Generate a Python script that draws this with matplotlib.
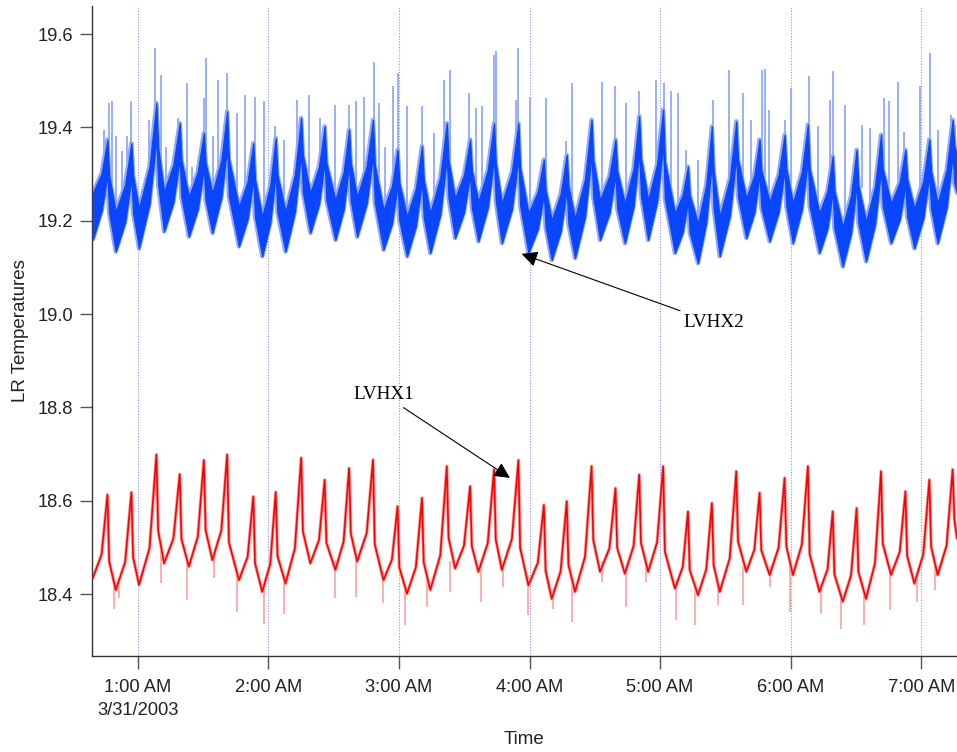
import numpy as np
import matplotlib
matplotlib.use("Agg")
import matplotlib.pyplot as plt

# ---------------- data (minutes after midnight, 3/31/2003) ----------------
key_t = [39.4,
    43.4, 46.1, 46.9, 49.9,   54.2, 57.1, 57.9, 60.6,   65.4, 68.6, 69.4, 72.1,
    76.4, 79.3, 80.1, 83.5,   87.6, 90.4, 91.2, 94.3,   98.4, 101.1, 101.9, 106.5,
    110.5, 113.1, 113.9, 117.2, 120.9, 123.4, 124.2, 127.9, 132.2, 135.1, 135.9, 139.3,
    143.3, 145.9, 146.7, 150.8, 154.6, 157.1, 157.9, 160.8, 165.2, 168.1, 168.9, 172.9,
    176.8, 179.4, 180.2, 183.7, 187.8, 190.6, 191.4, 194.4, 199.0, 202.0, 202.8, 205.8,
    209.9, 212.7, 213.5, 216.5, 220.8, 223.7, 224.5, 227.3, 231.9, 234.9, 235.7, 239.5,
    243.8, 246.6, 247.4, 250.2, 254.3, 257.1, 257.9, 260.9, 265.5, 268.5, 269.3, 272.4,
    276.7, 279.5, 280.3, 283.8, 287.8, 290.4, 291.2, 294.5, 298.6, 301.4, 302.2, 306.8,
    310.4, 312.8, 313.6, 317.4, 321.2, 323.8, 324.6, 327.4, 332.0, 335.0, 335.8, 339.6,
    343.3, 345.7, 346.5, 350.3, 354.4, 357.2, 358.0, 361.0, 365.1, 367.9, 368.7, 373.2,
    376.9, 379.3, 380.1, 383.9, 387.7, 390.3, 391.1, 394.6, 398.7, 401.5, 402.3, 406.1,
    410.1, 412.7, 413.5, 416.8, 420.9, 423.7, 424.5, 427.5, 431.6, 434.4, 435.2, 436.4]

lvhx1 = [18.435,
    18.485, 18.613, 18.470, 18.409, 18.468, 18.618, 18.479, 18.420, 18.498, 18.699, 18.536, 18.466,
    18.519, 18.657, 18.518, 18.459, 18.523, 18.687, 18.537, 18.473, 18.536, 18.699, 18.511, 18.430,
    18.480, 18.609, 18.466, 18.405, 18.465, 18.619, 18.482, 18.423, 18.498, 18.692, 18.534, 18.466,
    18.516, 18.645, 18.510, 18.452, 18.513, 18.670, 18.530, 18.470, 18.531, 18.688, 18.507, 18.430,
    18.474, 18.588, 18.457, 18.401, 18.458, 18.606, 18.468, 18.409, 18.483, 18.674, 18.521, 18.455,
    18.504, 18.631, 18.503, 18.448, 18.509, 18.667, 18.517, 18.452, 18.518, 18.687, 18.499, 18.419,
    18.467, 18.591, 18.450, 18.390, 18.449, 18.599, 18.463, 18.405, 18.480, 18.674, 18.516, 18.448,
    18.498, 18.627, 18.499, 18.444, 18.503, 18.656, 18.510, 18.448, 18.511, 18.674, 18.491, 18.412,
    18.458, 18.577, 18.452, 18.398, 18.453, 18.595, 18.462, 18.405, 18.477, 18.663, 18.513, 18.448,
    18.495, 18.617, 18.494, 18.441, 18.499, 18.649, 18.503, 18.441, 18.506, 18.674, 18.486, 18.405,
    18.453, 18.577, 18.442, 18.384, 18.440, 18.584, 18.448, 18.390, 18.466, 18.663, 18.508, 18.441,
    18.491, 18.620, 18.482, 18.423, 18.485, 18.645, 18.502, 18.441, 18.504, 18.667, 18.560, 18.520]

lvhx2_low = [19.160,
    19.221, 19.299, 19.217, 19.134, 19.197, 19.291, 19.216, 19.141, 19.236, 19.377, 19.277, 19.177,
    19.240, 19.334, 19.250, 19.166, 19.225, 19.313, 19.244, 19.174, 19.249, 19.359, 19.252, 19.145,
    19.204, 19.291, 19.208, 19.124, 19.196, 19.302, 19.218, 19.134, 19.219, 19.345, 19.260, 19.174,
    19.236, 19.327, 19.243, 19.159, 19.224, 19.320, 19.243, 19.166, 19.237, 19.341, 19.240, 19.138,
    19.194, 19.277, 19.201, 19.124, 19.189, 19.285, 19.208, 19.131, 19.213, 19.334, 19.249, 19.163,
    19.218, 19.299, 19.228, 19.156, 19.228, 19.334, 19.243, 19.152, 19.225, 19.334, 19.233, 19.131,
    19.182, 19.256, 19.186, 19.116, 19.177, 19.266, 19.193, 19.120, 19.209, 19.341, 19.250, 19.159,
    19.216, 19.299, 19.226, 19.152, 19.231, 19.349, 19.254, 19.159, 19.241, 19.363, 19.247, 19.131,
    19.176, 19.241, 19.175, 19.109, 19.197, 19.327, 19.226, 19.124, 19.210, 19.338, 19.251, 19.163,
    19.218, 19.299, 19.228, 19.156, 19.218, 19.309, 19.231, 19.152, 19.224, 19.331, 19.231, 19.131,
    19.184, 19.263, 19.183, 19.102, 19.173, 19.277, 19.195, 19.113, 19.192, 19.309, 19.231, 19.152,
    19.203, 19.277, 19.209, 19.141, 19.205, 19.299, 19.226, 19.152, 19.228, 19.341, 19.280, 19.260]

lvhx2_high = [19.260,
    19.301, 19.374, 19.297, 19.219, 19.277, 19.366, 19.296, 19.226, 19.316, 19.452, 19.357, 19.262,
    19.320, 19.409, 19.330, 19.251, 19.305, 19.388, 19.324, 19.259, 19.329, 19.434, 19.332, 19.230,
    19.284, 19.366, 19.288, 19.209, 19.276, 19.377, 19.298, 19.219, 19.299, 19.420, 19.340, 19.259,
    19.316, 19.402, 19.323, 19.244, 19.304, 19.395, 19.323, 19.251, 19.317, 19.416, 19.320, 19.223,
    19.274, 19.352, 19.281, 19.209, 19.269, 19.360, 19.288, 19.216, 19.293, 19.409, 19.329, 19.248,
    19.298, 19.374, 19.308, 19.241, 19.308, 19.409, 19.323, 19.237, 19.305, 19.409, 19.313, 19.216,
    19.262, 19.331, 19.266, 19.201, 19.257, 19.341, 19.273, 19.205, 19.289, 19.416, 19.330, 19.244,
    19.296, 19.374, 19.306, 19.237, 19.311, 19.424, 19.334, 19.244, 19.321, 19.438, 19.327, 19.216,
    19.256, 19.316, 19.255, 19.194, 19.277, 19.402, 19.306, 19.209, 19.290, 19.413, 19.331, 19.248,
    19.298, 19.374, 19.308, 19.241, 19.298, 19.384, 19.311, 19.237, 19.304, 19.406, 19.311, 19.216,
    19.264, 19.338, 19.263, 19.187, 19.253, 19.352, 19.275, 19.198, 19.272, 19.384, 19.311, 19.237,
    19.283, 19.352, 19.289, 19.226, 19.285, 19.374, 19.306, 19.237, 19.308, 19.416, 19.360, 19.340]

# sharp excursions in the LVHX2 record (time, base, top)
spike2_t = [41.8, 44.3, 46.8, 48.4, 49.9, 53.0, 55.3, 57.1, 65.2, 67.8, 70.5, 72.8, 78.5, 82.8,
    85.1, 90.4, 91.6, 94.7, 96.8, 101.1, 105.7, 109.1, 113.8, 117.9, 123.3, 127.4, 133.2, 138.9,
    143.6, 150.5, 156.9, 160.4, 163.8, 168.7, 170.7, 173.7, 177.5, 179.8, 183.7, 190.8, 195.9,
    200.8, 203.5, 212.4, 215.5, 218.1, 223.7, 224.6, 233.8, 234.9, 240.2, 247.4, 256.6, 259.6,
    273.4, 279.2, 284.3, 290.4, 298.3, 301.7, 305.2, 308.3, 312.1, 317.4, 324.3, 331.6, 338.0,
    341.9, 346.9, 348.0, 350.0, 357.6, 360.2, 368.3, 372.4, 378.1, 379.6, 385.1, 392.8, 396.6,
    402.7, 405.0, 409.1, 412.2, 419.4, 424.0, 427.5, 433.6, 435.3]
spike2_base = [19.21, 19.26, 19.28, 19.22, 19.17, 19.19, 19.25, 19.30, 19.25, 19.35, 19.25, 19.21,
    19.30, 19.20, 19.19, 19.31, 19.27, 19.20, 19.22, 19.36, 19.18, 19.21, 19.25, 19.16, 19.30,
    19.17, 19.26, 19.21, 19.25, 19.19, 19.32, 19.20, 19.25, 19.30, 19.20, 19.17, 19.24, 19.26,
    19.16, 19.28, 19.18, 19.29, 19.26, 19.30, 19.20, 19.21, 19.33, 19.26, 19.29, 19.33, 19.17,
    19.21, 19.26, 19.17, 19.21, 19.30, 19.19, 19.35, 19.28, 19.35, 19.20, 19.20, 19.24, 19.15,
    19.30, 19.26, 19.21, 19.22, 19.28, 19.24, 19.20, 19.30, 19.19, 19.31, 19.17, 19.24, 19.26,
    19.15, 19.27, 19.16, 19.25, 19.19, 19.25, 19.28, 19.24, 19.28, 19.19, 19.31, 19.30]
spike2_top = [19.274, 19.395, 19.452, 19.456, 19.381, 19.349, 19.381, 19.456, 19.416, 19.570,
    19.513, 19.359, 19.420, 19.495, 19.316, 19.463, 19.548, 19.381, 19.502, 19.516, 19.431,
    19.470, 19.466, 19.456, 19.402, 19.374, 19.459, 19.470, 19.420, 19.448, 19.448, 19.456,
    19.466, 19.541, 19.452, 19.359, 19.488, 19.516, 19.445, 19.445, 19.388, 19.502, 19.523,
    19.473, 19.441, 19.445, 19.556, 19.563, 19.459, 19.570, 19.466, 19.463, 19.370, 19.495,
    19.498, 19.488, 19.452, 19.477, 19.502, 19.495, 19.477, 19.473, 19.352, 19.331, 19.459,
    19.523, 19.473, 19.416, 19.523, 19.525, 19.438, 19.416, 19.484, 19.509, 19.402, 19.459,
    19.520, 19.448, 19.406, 19.399, 19.463, 19.456, 19.498, 19.391, 19.488, 19.559, 19.395,
    19.427, 19.406]

# downward excursions in the LVHX1 record (time, low, high)
spike1_t = [48.9, 51.4, 70.5, 82.8, 95.0, 105.7, 117.9, 127.1, 150.8, 160.4, 172.9, 182.9, 192.9,
    203.5, 217.6, 228.0, 239.5, 250.9, 259.4, 273.1, 284.3, 293.4, 307.2, 315.9, 326.6, 338.0,
    350.3, 359.9, 374.0, 383.2, 393.9, 405.4, 418.0, 426.5]
spike1_low = [18.369, 18.391, 18.423, 18.387, 18.434, 18.362, 18.337, 18.358, 18.391, 18.394,
    18.380, 18.333, 18.373, 18.405, 18.384, 18.416, 18.355, 18.369, 18.340, 18.427, 18.373,
    18.427, 18.344, 18.333, 18.376, 18.376, 18.416, 18.362, 18.358, 18.326, 18.333, 18.366,
    18.384, 18.409]
spike1_high = [18.43, 18.43, 18.50, 18.47, 18.48, 18.45, 18.42, 18.44, 18.47, 18.48, 18.45, 18.42,
    18.43, 18.47, 18.46, 18.47, 18.44, 18.41, 18.42, 18.47, 18.46, 18.47, 18.43, 18.42, 18.43,
    18.46, 18.46, 18.46, 18.42, 18.40, 18.41, 18.46, 18.44, 18.46]

hour_ticks = [60, 120, 180, 240, 300, 360, 420]
hour_labels = ["1:00 AM\n3/31/2003", "2:00 AM", "3:00 AM", "4:00 AM", "5:00 AM", "6:00 AM", "7:00 AM"]

# ---------------- figure ----------------
W, H = 957, 752
fig = plt.figure(figsize=(W / 100, H / 100), dpi=100)
ax = fig.add_axes([92 / W, 1 - 656 / H, 1 - 92 / W, (656 - 6) / H])

sans = ["Liberation Sans", "DejaVu Sans"]
serif = ["Liberation Serif", "DejaVu Serif"]

dark_blue = "#0a46ff"
light_blue = "#8fa9ff"
red = "#ff0000"
light_red = "#ffa0a0"

# LVHX2: light fringe, spikes, dense core
ax.fill_between(key_t, lvhx2_low, lvhx2_high, facecolor="none", edgecolor=light_blue,
                linewidth=3.2, zorder=2)
ax.vlines(spike2_t, spike2_base, spike2_top, color=light_blue, linewidth=1.3, zorder=2)
ax.fill_between(key_t, lvhx2_low, lvhx2_high, color=dark_blue, linewidth=0.9,
                edgecolor=dark_blue, zorder=3)

# LVHX1: light fringe, spikes, core line
ax.vlines(spike1_t, spike1_low, spike1_high, color=light_red, linewidth=1.2, zorder=2)
ax.plot(key_t, lvhx1, color=light_red, linewidth=2.4, zorder=2, solid_joinstyle="round")
ax.plot(key_t, lvhx1, color=red, linewidth=1.2, zorder=3)

ax.set_xlim(39.0, 436.4)
ax.set_ylim(18.2675, 19.66)

ax.set_xticks(hour_ticks)
ax.set_xticklabels(hour_labels, fontfamily=sans, fontsize=13.2, color="#222222",
                   linespacing=1.45, va="top")
yt = [18.4, 18.6, 18.8, 19.0, 19.2, 19.4, 19.6]
ax.set_yticks(yt)
ax.set_yticklabels([f"{v:.1f}" for v in yt], fontfamily=sans, fontsize=13.2, color="#222222")

ax.tick_params(axis="x", length=9.5, width=1.0, color="#555555", pad=7, direction="out")
ax.tick_params(axis="y", length=8.6, width=1.0, color="#555555", pad=5, direction="out")

ax.xaxis.grid(True, color="#8c8cff", linestyle=(0, (1, 1.5)), linewidth=0.8, zorder=1)
ax.set_axisbelow(True)

for s in ("top", "right"):
    ax.spines[s].set_visible(False)
for s in ("left", "bottom"):
    ax.spines[s].set_color("#333333")
    ax.spines[s].set_linewidth(1.0)

ax.set_ylabel("LR Temperatures", fontfamily=sans, fontsize=13.5, color="#222222", labelpad=6)
ax.set_xlabel("Time", fontfamily=sans, fontsize=13.5, color="#222222", labelpad=9)

arrow = dict(arrowstyle="-|>", color="black", lw=0.8, mutation_scale=24, shrinkA=2, shrinkB=0)
ax.annotate("LVHX2", xy=(236.4, 19.129), xytext=(324.8, 18.981), fontfamily=serif,
            fontsize=13.8, ha="center", va="center", arrowprops=arrow, zorder=5)
ax.annotate("LVHX1", xy=(231.0, 18.649), xytext=(173.2, 18.827), fontfamily=serif,
            fontsize=13.8, ha="center", va="center", arrowprops=arrow, zorder=5)

fig.savefig("out.png", dpi=100)
